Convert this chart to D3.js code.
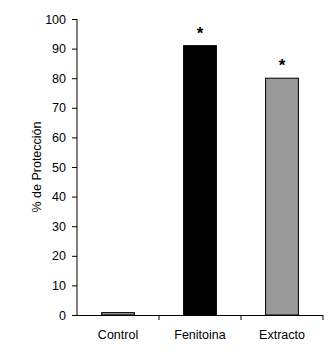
<!DOCTYPE html>
<html><head><meta charset="utf-8">
<script src="https://cdn.jsdelivr.net/npm/d3@7"></script>
<style>body{margin:0;background:#fff}text{font-family:"Liberation Sans",Arial,sans-serif}</style>
</head><body><svg id="c" width="330" height="354"></svg>
<script>
const categories = ["Control", "Fenitoina", "Extracto"];
const values = [0.8, 91, 80];
const colors = ["#999999", "#000000", "#999999"];
const significant = [false, true, true];
const yTicks = [0,10,20,30,40,50,60,70,80,90,100];
const yLabel = "% de Protección";

const svg = d3.select("#c");
const m = {l:77, r:7, t:19, b:39};
const W = 330, H = 354;
const x = d3.scaleBand().domain(categories).range([m.l, W - m.r]).paddingInner(0.6).paddingOuter(0.3);
const y = d3.scaleLinear().domain([0,100]).range([H - m.b, m.t]);

svg.selectAll("rect.bar").data(values).enter().append("rect")
  .attr("x",(d,i)=>x(categories[i])).attr("width",x.bandwidth())
  .attr("y",d=>y(d)).attr("height",d=>y(0)-y(d))
  .attr("fill",(d,i)=>colors[i]).attr("stroke","#000").attr("stroke-width",1);

svg.selectAll("text.star").data(values.map((v,i)=>({v,i}))).enter()
  .filter(d=>significant[d.i]).append("text")
  .attr("x",d=>x(categories[d.i])+x.bandwidth()/2)
  .attr("y",d=>y(d.v)-7).attr("text-anchor","middle").attr("font-size",17).attr("font-weight","bold").text("*");

const ya = svg.append("g").attr("transform",`translate(${m.l},0)`)
  .call(d3.axisLeft(y).tickValues(yTicks).tickSize(5).tickPadding(6).tickFormat(d3.format("d")));
ya.selectAll("text").attr("font-size",12.5).attr("font-family","Liberation Sans, Arial").attr("fill","#000");
ya.selectAll("line,path").attr("stroke","#000");
ya.select(".domain").attr("d",`M-0.5,${y(0)}V${m.t}`).attr("transform","translate(0.5,0)");

const xa = svg.append("g").attr("transform",`translate(0,${y(0)})`)
  .call(d3.axisBottom(x).tickSize(0).tickPadding(15));
xa.select(".domain").attr("d",`M${m.l},0.5H${W-m.r}`).attr("stroke","#000");
xa.selectAll("text").attr("font-size",12.5).attr("font-family","Liberation Sans, Arial").attr("fill","#000");
const step = x.step();
const bounds = categories.map(c=>x(c) + x.bandwidth()/2 + step/2);
xa.selectAll("line.sep").data(bounds).enter().append("line")
  .attr("x1",d=>d).attr("x2",d=>d).attr("y1",0).attr("y2",5).attr("stroke","#000");

svg.append("text").attr("transform",`translate(41,${(y(0)+m.t)/2}) rotate(-90)`)
  .attr("text-anchor","middle").attr("font-size",12.5).text(yLabel);
</script></body></html>
